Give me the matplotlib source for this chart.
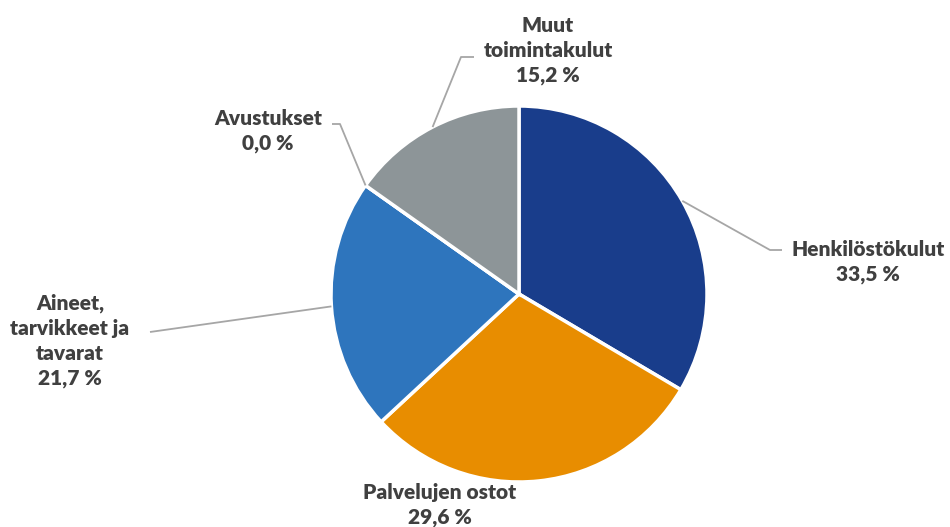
import numpy as np
import matplotlib
matplotlib.use("Agg")
import matplotlib.pyplot as plt

labels = ["Henkilöstökulut", "Palvelujen ostot", "Aineet,\ntarvikkeet ja\ntavarat",
          "Avustukset", "Muut\ntoimintakulut"]
shares = [33.5, 29.6, 21.7, 0.0, 15.2]
colors = ["#193d8b", "#e88d00", "#2e75bd", "#2e75bd", "#8d9598"]

# label layout in pixel coords (x, y of first line from top), leader elbow points
label_pos = [(868, 248), (440, 491), (70, 298), (268, 117), (548, 22)]
elbows = [[(770, 250), (782, 250)], None, [(150, 332)],
          [(340, 124), (332, 124)], [(461, 57), (474, 57)]]

W, H = 950, 527
cx, cy, r = 519, 294, 188

fig = plt.figure(figsize=(9.5, 5.27), dpi=100)
ax = fig.add_axes([0, 0, 1, 1])

wedges, _ = ax.pie(shares, colors=colors, startangle=90, counterclock=False,
                   center=(cx, H - cy), radius=r,
                   wedgeprops=dict(edgecolor="white", linewidth=2.5))
ax.set_xlim(0, W)
ax.set_ylim(0, H)
ax.set_aspect("equal")
ax.axis("off")

plt.rcParams["font.family"] = ["Lato", "DejaVu Sans"]
txt = dict(ha="center", va="center", fontsize=15, fontweight="heavy",
           color="#404040", linespacing=1.35)

ang = 90.0
for lab, val, pos, elb in zip(labels, shares, label_pos, elbows):
    span = val / 100 * 360
    mid = np.deg2rad(ang - span / 2)
    ang -= span
    s = f"{lab}\n{val:.1f} %".replace(".", ",")
    nlines = s.count("\n") + 1
    ytop = pos[1]
    yc = ytop + (nlines - 1) * 28.5 / 2
    ax.text(pos[0], H - yc, s, **txt)
    if elb:
        px = cx + r * np.cos(mid)
        py = cy - r * np.sin(mid)
        xs = [px] + [e[0] for e in elb]
        ys = [H - py] + [H - e[1] for e in elb]
        ax.plot(xs, ys, color="#a6a6a6", lw=1.3, solid_capstyle="butt")

fig.savefig("out.png", dpi=100, facecolor="white")
